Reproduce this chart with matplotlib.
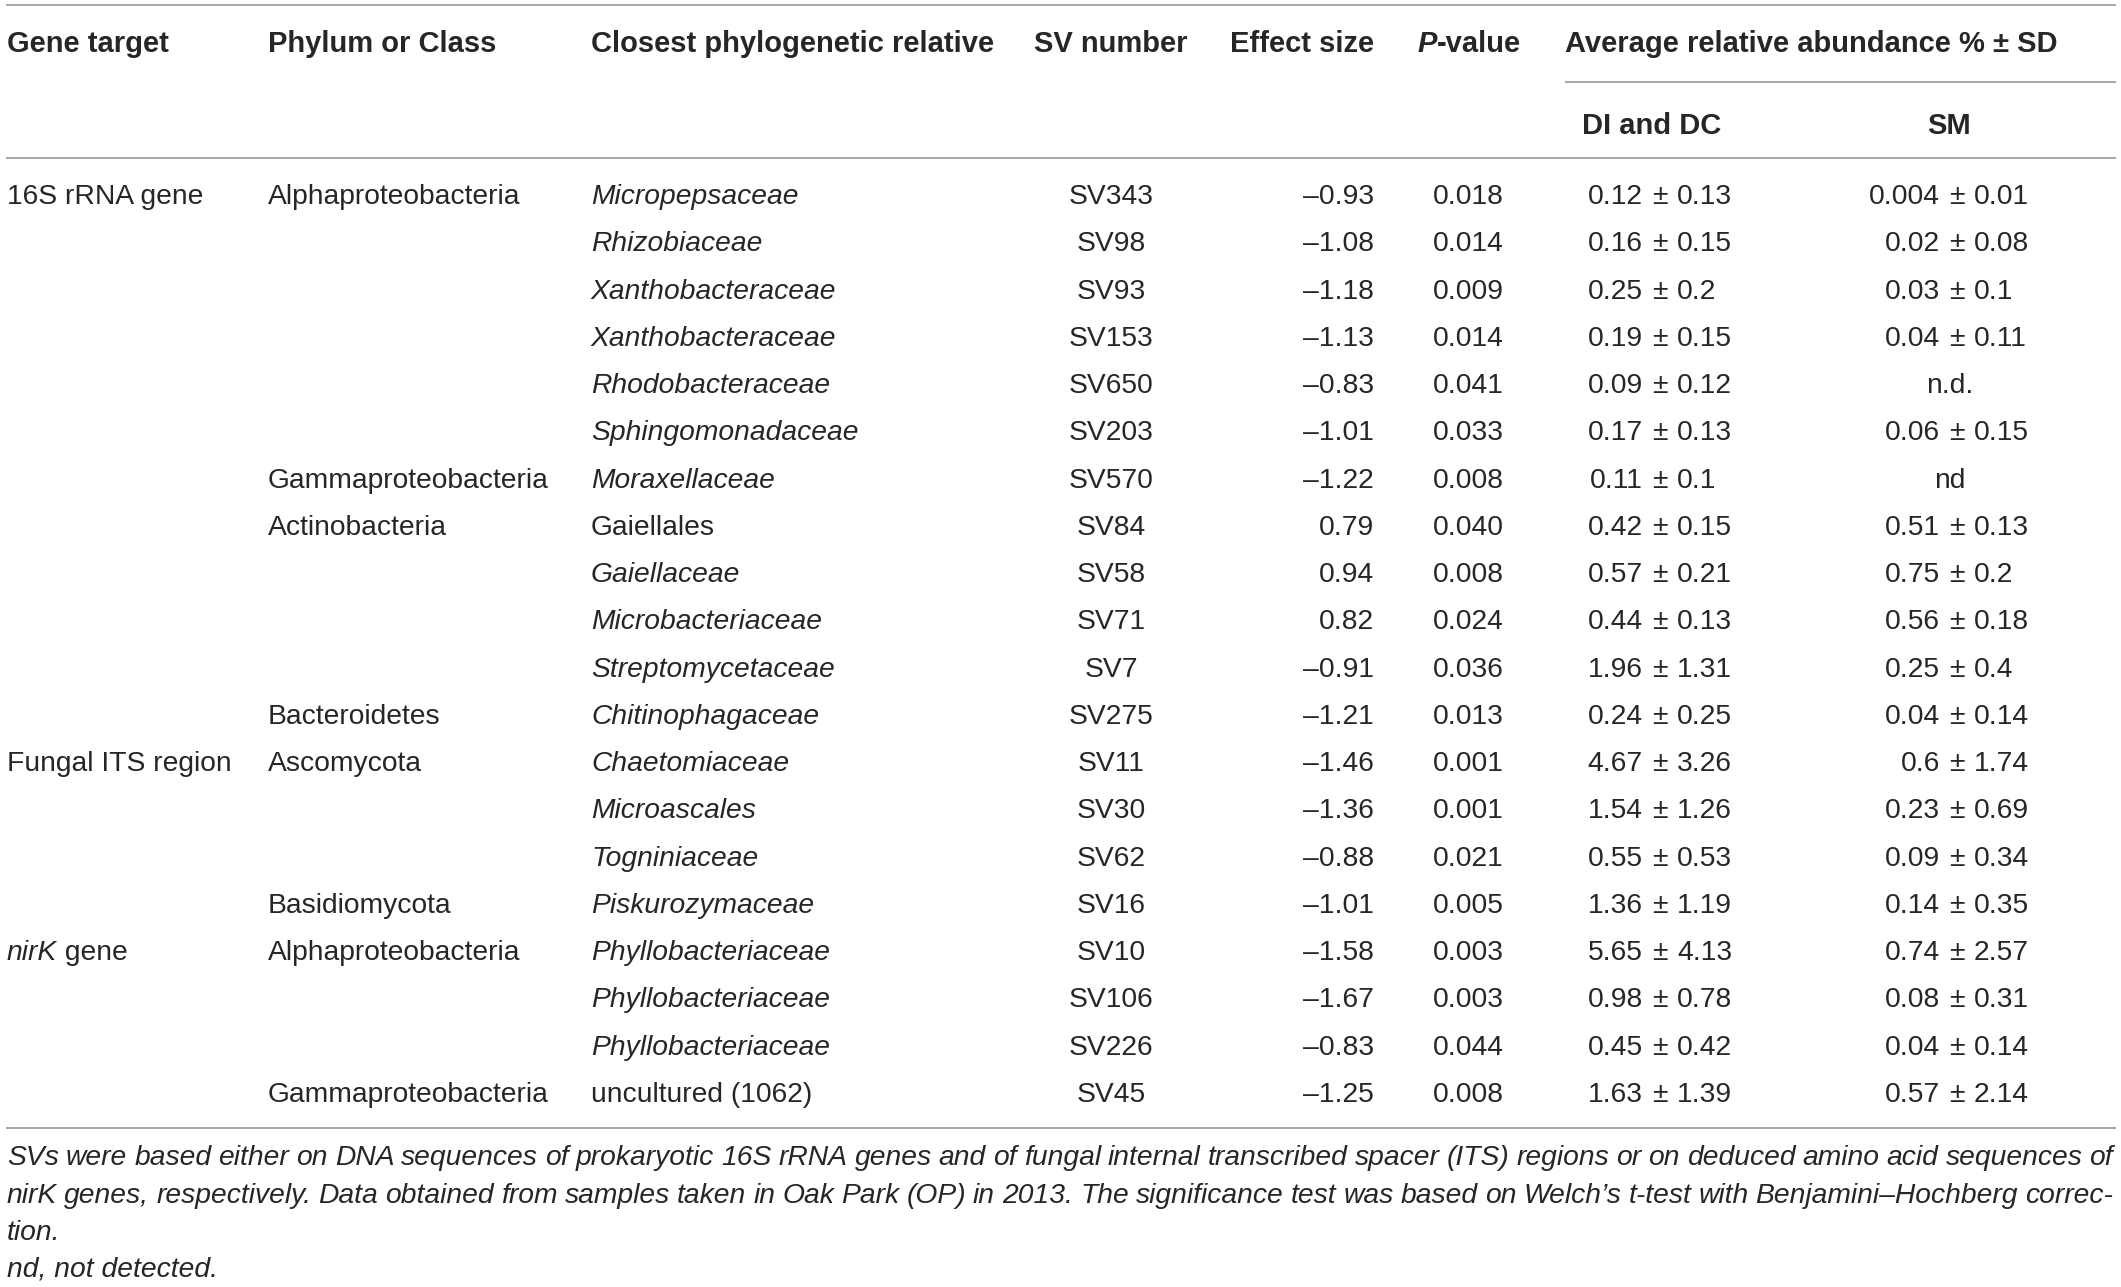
import matplotlib
matplotlib.use("Agg")
import matplotlib.pyplot as plt

# ---- table data ----
gene_rows = [0, 12, 16]
gene_labels = ["16S rRNA gene", "Fungal ITS region", "nirK gene"]

phylum_rows = [0, 6, 7, 11, 12, 15, 16, 19]
phylum_labels = ["Alphaproteobacteria", "Gammaproteobacteria", "Actinobacteria",
                 "Bacteroidetes", "Ascomycota", "Basidiomycota",
                 "Alphaproteobacteria", "Gammaproteobacteria"]

relatives = ["Micropepsaceae", "Rhizobiaceae", "Xanthobacteraceae", "Xanthobacteraceae",
             "Rhodobacteraceae", "Sphingomonadaceae", "Moraxellaceae", "Gaiellales",
             "Gaiellaceae", "Microbacteriaceae", "Streptomycetaceae", "Chitinophagaceae",
             "Chaetomiaceae", "Microascales", "Togniniaceae", "Piskurozymaceae",
             "Phyllobacteriaceae", "Phyllobacteriaceae", "Phyllobacteriaceae",
             "uncultured (1062)"]
not_italic = ["Gaiellales", "uncultured (1062)"]

sv_numbers = ["SV343", "SV98", "SV93", "SV153", "SV650", "SV203", "SV570", "SV84",
              "SV58", "SV71", "SV7", "SV275", "SV11", "SV30", "SV62", "SV16",
              "SV10", "SV106", "SV226", "SV45"]

effect_sizes = [-0.93, -1.08, -1.18, -1.13, -0.83, -1.01, -1.22, 0.79, 0.94, 0.82,
                -0.91, -1.21, -1.46, -1.36, -0.88, -1.01, -1.58, -1.67, -0.83, -1.25]

p_values = [0.018, 0.014, 0.009, 0.014, 0.041, 0.033, 0.008, 0.040, 0.008, 0.024,
            0.036, 0.013, 0.001, 0.001, 0.021, 0.005, 0.003, 0.003, 0.044, 0.008]

di_mean = ["0.12", "0.16", "0.25", "0.19", "0.09", "0.17", "0.11", "0.42", "0.57", "0.44",
           "1.96", "0.24", "4.67", "1.54", "0.55", "1.36", "5.65", "0.98", "0.45", "1.63"]
di_sd = ["0.13", "0.15", "0.2", "0.15", "0.12", "0.13", "0.1", "0.15", "0.21", "0.13",
         "1.31", "0.25", "3.26", "1.26", "0.53", "1.19", "4.13", "0.78", "0.42", "1.39"]

sm_mean = ["0.004", "0.02", "0.03", "0.04", "n.d.", "0.06", "nd", "0.51", "0.75", "0.56",
           "0.25", "0.04", "0.6", "0.23", "0.09", "0.14", "0.74", "0.08", "0.04", "0.57"]
sm_sd = ["0.01", "0.08", "0.1", "0.11", None, "0.15", None, "0.13", "0.2", "0.18",
         "0.4", "0.14", "1.74", "0.69", "0.34", "0.35", "2.57", "0.31", "0.14", "2.14"]

footnote = [
    "SVs were based either on DNA sequences of prokaryotic 16S rRNA genes and of fungal "
    "internal transcribed spacer (ITS) regions or on deduced amino acid sequences of",
    "nirK genes, respectively. Data obtained from samples taken in Oak Park (OP) in 2013. "
    "The significance test was based on Welch\u2019s t-test with Benjamini\u2013Hochberg correc-",
    "tion.",
    "nd, not detected.",
]

# ---- layout (pixel coordinates) ----
W, H = 2121, 1287
FONT = "Liberation Sans"
TXT = "#262626"
LINE = "#8f8f8f"
FS = 20.3
HFS = 21

fig = plt.figure(figsize=(W / 100, H / 100), dpi=100)
ax = fig.add_axes([0, 0, 1, 1])
ax.set_xlim(0, W)
ax.set_ylim(H, 0)
ax.axis("off")
renderer = fig.canvas.get_renderer()


def put(x, y, s, ha="left", style="normal", weight="normal", size=FS):
    return ax.text(x, y, s, ha=ha, va="baseline", fontsize=size, family=FONT,
                   style=style, weight=weight, color=TXT)


def width(t):
    bb = t.get_window_extent(renderer=renderer)
    return bb.width


# rules
for y in [5, 158, 1128]:
    ax.plot([6, 2116], [y, y], color=LINE, lw=1.1, solid_capstyle="butt")
ax.plot([1565, 2116], [82, 82], color=LINE, lw=1.1, solid_capstyle="butt")

# header
hy = 52
put(7, hy, "Gene target", weight="bold", size=HFS)
put(268, hy, "Phylum or Class", weight="bold", size=HFS)
put(591, hy, "Closest phylogenetic relative", weight="bold", size=HFS)
put(1111, hy, "SV number", ha="center", weight="bold", size=HFS)
put(1374, hy, "Effect size", ha="right", weight="bold", size=HFS)
tp = put(0, hy, "P", style="italic", weight="bold", size=HFS)
tv = put(0, hy, "-value", weight="bold", size=HFS)
wp, wv = width(tp), width(tv)
tp.set_x(1469 - (wp + wv) / 2)
tv.set_x(1469 - (wp + wv) / 2 + wp)
put(1565, hy, "Average relative abundance % \u00b1 SD", weight="bold", size=HFS)
put(1652, 134, "DI and DC", ha="center", weight="bold", size=HFS)
put(1949, 134, "SM", ha="center", weight="bold", size=HFS)

# body
y0, dy = 204, 47.26
rows = [y0 + i * dy for i in range(len(relatives))]

for r, lab in zip(gene_rows, gene_labels):
    if lab.startswith("nirK"):
        t = put(7, rows[r], "nirK", style="italic")
        put(7 + width(t), rows[r], lab[4:])
    else:
        put(7, rows[r], lab)

for r, lab in zip(phylum_rows, phylum_labels):
    put(268, rows[r], lab)

PM_GAP = 17
for i, y in enumerate(rows):
    put(591, y, relatives[i], style="normal" if relatives[i] in not_italic else "italic")
    put(1111, y, sv_numbers[i], ha="center")
    put(1374, y, f"{effect_sizes[i]:.2f}".replace("-", "\u2013"), ha="right")
    put(1468, y, f"{p_values[i]:.3f}", ha="center")
    # DI and DC, aligned on the plus-minus sign
    put(1660 - PM_GAP, y, di_mean[i], ha="right")
    put(1660, y, "\u00b1", ha="center")
    put(1660 + PM_GAP, y, di_sd[i], ha="left")
    if sm_sd[i] is None:
        put(1950, y, sm_mean[i], ha="center")
    else:
        put(1957 - PM_GAP, y, sm_mean[i], ha="right")
        put(1957, y, "\u00b1", ha="center")
        put(1957 + PM_GAP, y, sm_sd[i], ha="left")

# footnote: first two lines justified across the table width
fy = [1165, 1203, 1240, 1277]
left, right = 7, 2113
for k, line in enumerate(footnote):
    if k < 2:
        words = line.split(" ")
        texts = [put(0, fy[k], w, style="italic") for w in words]
        widths = [width(t) for t in texts]
        gap = (right - left - sum(widths)) / (len(words) - 1)
        x = left
        for t, w in zip(texts, widths):
            t.set_x(x)
            x += w + gap
    else:
        put(left, fy[k], line, style="italic")

fig.savefig("out.png", dpi=100)
